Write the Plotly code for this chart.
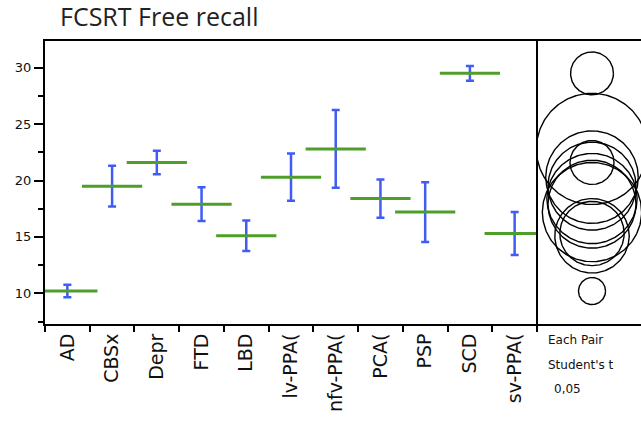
import numpy as np
import plotly.graph_objects as go

# ---- data ----
groups = ["AD", "CBSx", "Depr", "FTD", "LBD", "lv-PPA(", "nfv-PPA(", "PCA(", "PSP", "SCD", "sv-PPA("]
means = [10.2, 19.5, 21.6, 17.9, 15.1, 20.3, 22.8, 18.4, 17.2, 29.5, 15.3]
errors = [0.55, 1.8, 1.05, 1.5, 1.35, 2.1, 3.45, 1.7, 2.65, 0.65, 1.9]
circle_radii = [1.2, 3.9, 1.95, 3.9, 3.3, 4.1, 4.93, 4.0, 4.4, 1.9, 2.85]
y_ticks = [10, 15, 20, 25, 30]
legend_lines = ["Each Pair", "Student's t", "0,05"]
title_text = "FCSRT Free recall"

W, H = 641, 426
L, T, B = 45, 41, 102
plot_w = W - L
split_px = 537
y_lo, y_hi = 7.278, 32.37
px_per_unit = (H - T - B) / (y_hi - y_lo)
cx_px = 592
x2_lo = -(cx_px - split_px) / px_per_unit
x2_hi = (W - cx_px) / px_per_unit
dom_split = (split_px - L) / plot_w

BLUE = "#3f5cf5"
GREEN = "#4f9e2a"

fig = go.Figure()

# error bars
fig.add_trace(go.Scatter(
    x=groups, y=means, mode="markers",
    marker=dict(size=1, color="rgba(0,0,0,0)"),
    error_y=dict(type="data", array=errors, color=BLUE, thickness=2.5, width=4),
    showlegend=False, hoverinfo="skip"))

# mean lines
fig.add_trace(go.Scatter(
    x=groups, y=means, mode="markers",
    marker=dict(symbol="line-ew-open", size=43, color=GREEN,
                line=dict(color=GREEN, width=3)),
    showlegend=False, hoverinfo="skip"))

# comparison circles
theta = np.linspace(0, 2 * np.pi, 240)
for m, r in zip(means, circle_radii):
    fig.add_trace(go.Scatter(
        x=r * np.cos(theta), y=m + r * np.sin(theta),
        xaxis="x2", yaxis="y", mode="lines",
        line=dict(color="black", width=1.4),
        showlegend=False, hoverinfo="skip"))

fig.update_layout(
    width=W, height=H,
    margin=dict(l=L, r=0, t=T, b=B),
    paper_bgcolor="white", plot_bgcolor="white",
    font=dict(family="DejaVu Sans", color="black"),
    title=dict(text=title_text, xref="container", yref="container",
               x=60 / W, y=1 - 8 / H, xanchor="left", yanchor="top",
               font=dict(family="Open Sans", size=25, color="#222222")),
    xaxis=dict(domain=[0, dom_split], type="category",
               categoryorder="array", categoryarray=groups,
               range=[-0.5, len(groups) - 0.5],
               showline=True, linecolor="black", linewidth=2, mirror=True,
               ticks="outside", tickson="boundaries", ticklen=6, tickwidth=1.5,
               tickcolor="black", tickangle=-90,
               tickfont=dict(family="DejaVu Sans", size=19, color="#111111"),
               showgrid=False, zeroline=False, fixedrange=True),
    xaxis2=dict(domain=[dom_split, 1], anchor="y", range=[x2_lo, x2_hi],
                showline=True, linecolor="black", linewidth=2, mirror=True,
                showticklabels=False, ticks="", showgrid=False, zeroline=False),
    yaxis=dict(range=[y_lo, y_hi], tickvals=y_ticks,
               showline=True, linecolor="black", linewidth=2,
               ticks="outside", ticklen=9, tickwidth=1.5, tickcolor="black",
               minor=dict(dtick=2.5, tick0=0, ticks="outside", ticklen=5,
                          tickwidth=1.5, tickcolor="black", showgrid=False),
               tickfont=dict(family="DejaVu Sans", size=13, color="#111111"),
               showgrid=False, zeroline=False),
)

# divider between panels
fig.add_shape(type="line", xref="paper", yref="paper",
              x0=dom_split, x1=dom_split, y0=0, y1=1,
              line=dict(color="black", width=2))

# comparison-circle legend text
for txt, ypx, xpx in zip(legend_lines, [340, 365, 389], [546, 546, 552]):
    fig.add_annotation(text=txt, xref="paper", yref="paper",
                       x=(xpx - L) / plot_w, y=(H - B - ypx) / (H - T - B),
                       xanchor="left", yanchor="middle", showarrow=False,
                       font=dict(family="DejaVu Sans", size=12, color="#111111"))

fig.write_html("out.html")
